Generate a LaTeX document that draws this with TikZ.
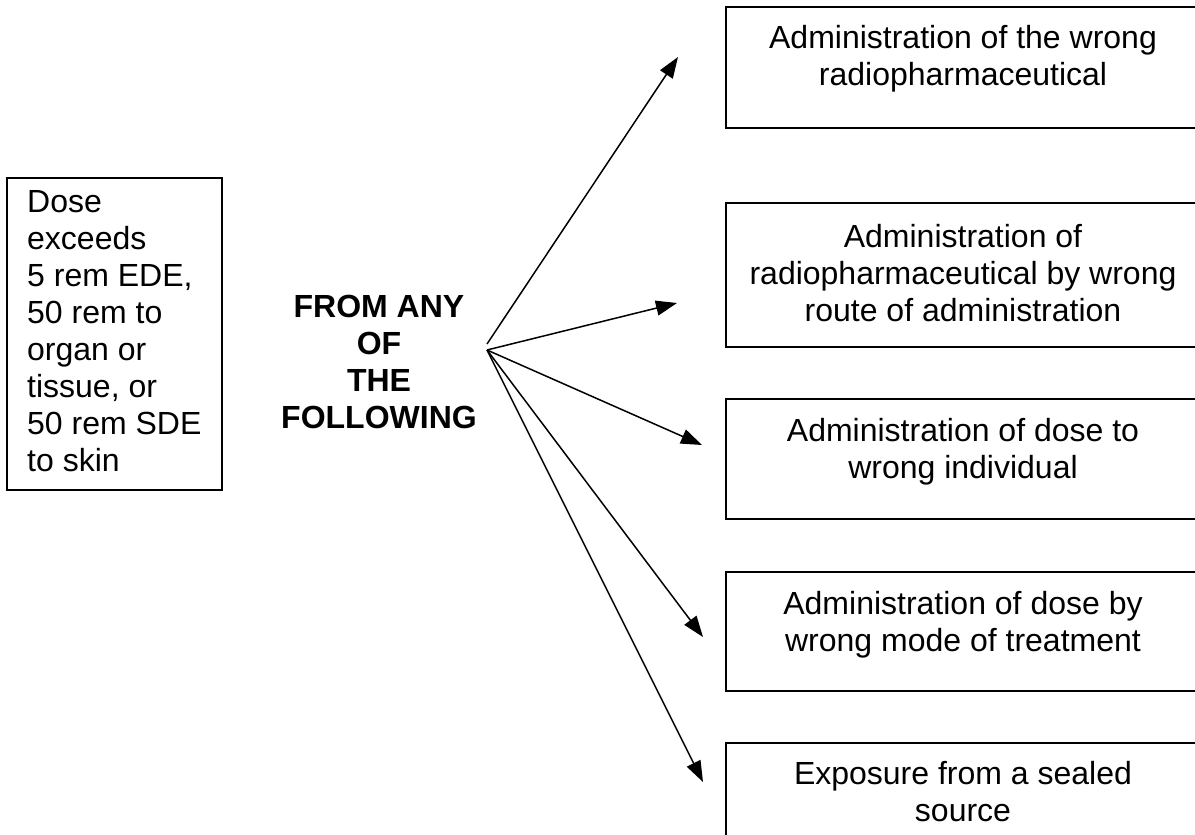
\documentclass[tikz,border=0pt]{standalone}
\usepackage{fontspec}
\setmainfont{Liberation Sans}
\usetikzlibrary{arrows.meta}
\begin{document}
\begin{tikzpicture}[x=1pt,y=-1pt,
  boxline/.style={draw=black, line width=1.8pt, inner sep=0pt, outer sep=0pt, anchor=north west},
  txt/.style={font=\fontsize{32}{37}\selectfont, align=center, inner sep=0pt, anchor=north},
  arr/.style={line width=1.5pt, -{Triangle[length=21pt,width=15pt]}}]
\clip (0,0) rectangle (1195,835);
% left box
\node[boxline, minimum width=215pt, minimum height=312pt] (src) at (7,178) {};
\node[txt, align=left, anchor=north west] (srctxt) at (27,190.5) {Dose\\exceeds\\5 rem EDE,\\50 rem to\\organ or\\tissue, or\\50 rem SDE\\to skin};
% middle text
\node[txt, font=\fontsize{32}{37}\selectfont\bfseries] (mid) at (379,294.5) {FROM ANY\\OF\\THE\\FOLLOWING};
% right boxes (right edges run past the picture)
\node[boxline, minimum width=490pt, minimum height=121pt] (b1) at (726,7) {};
\node[boxline, minimum width=490pt, minimum height=144pt] (b2) at (726,203) {};
\node[boxline, minimum width=490pt, minimum height=120pt] (b3) at (726,399) {};
\node[boxline, minimum width=490pt, minimum height=119pt] (b4) at (726,572) {};
\node[boxline, minimum width=490pt, minimum height=160pt] (b5) at (726,743) {};
\node[txt] (t1) at (963,25.5) {Administration of the wrong\\radiopharmaceutical};
\node[txt] (t2) at (963,224.5) {Administration of\\radiopharmaceutical by wrong\\route of administration};
\node[txt] (t3) at (963,418.5) {Administration of dose to\\wrong individual};
\node[txt] (t4) at (963,591.5) {Administration of dose by\\wrong mode of treatment};
\node[txt] (t5) at (963,761.5) {Exposure from a sealed\\source};
% arrows
\coordinate (o) at (487,350);
\coordinate (o1) at (487,344);
\coordinate (e1) at (678,57);
\coordinate (e2) at (677,303);
\coordinate (e3) at (702,445);
\coordinate (e4) at (703,637);
\coordinate (e5) at (703,782);
\draw[arr] (o1) -- (e1);
\draw[arr] (o) -- (e2);
\draw[arr] (o) -- (e3);
\draw[arr] (o) -- (e4);
\draw[arr] (o) -- (e5);
\end{tikzpicture}
\end{document}
